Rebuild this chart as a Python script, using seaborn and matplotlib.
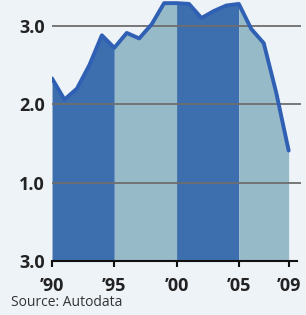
import numpy as np
import pandas as pd
import matplotlib
matplotlib.use("Agg")
import matplotlib.pyplot as plt
import seaborn as sns

# data
years = [1990, 1991, 1992, 1993, 1994, 1995, 1996, 1997, 1998, 1999,
         2000, 2001, 2002, 2003, 2004, 2005, 2006, 2007, 2008, 2009]
values = [2.33, 2.06, 2.20, 2.50, 2.88, 2.72, 2.91, 2.84, 3.02, 3.29,
          3.29, 3.28, 3.10, 3.19, 3.26, 3.28, 2.96, 2.78, 2.15, 1.41]
bands = [(1990, 1995), (1995, 2000), (2000, 2005), (2005, 2009)]
band_colors = ["#3d6fae", "#97bac9", "#3d6fae", "#97bac9"]
ytick_vals = [0, 1, 2, 3]
ytick_labels = ["3.0", "1.0", "2.0", "3.0"]
xtick_vals = [1990, 1995, 2000, 2005, 2009]
xtick_labels = ["\u201990", "\u201995", "\u201900", "\u201905", "\u201909"]

df = pd.DataFrame({"year": years, "value": values})

sns.set_style("white")
plt.rcParams["font.family"] = ["Open Sans", "DejaVu Sans"]
bg = "#eef3f8"

fig = plt.figure(figsize=(3.06, 3.15), dpi=100, facecolor=bg)
ax = fig.add_axes([0.170, 0.171, 0.801, 0.829])
ax.set_facecolor(bg)

for (a, b), c in zip(bands, band_colors):
    sub = df[(df.year >= a) & (df.year <= b)]
    ax.fill_between(sub.year, 0, sub.value, color=c, linewidth=0, zorder=1)

for v in [1, 2, 3]:
    ax.hlines(v, 1990, 2010.0, color="#6e6e6e", linewidth=1.3, zorder=2, clip_on=False)

sns.lineplot(data=df, x="year", y="value", ax=ax, color="#3060b4", linewidth=2.8, zorder=3)

ax.set_xlim(1990, 2009.68)
ax.set_ylim(0, 3.33)
for s in ["top", "right", "left"]:
    ax.spines[s].set_visible(False)
ax.spines["bottom"].set_color("#111111")
ax.spines["bottom"].set_linewidth(1.5)
ax.spines["bottom"].set_zorder(4)

ax.set_xticks(xtick_vals)
ax.set_xticklabels(xtick_labels, fontsize=13, fontweight="bold", color="#222222")
ax.set_yticks(ytick_vals)
ax.set_yticklabels(ytick_labels, fontsize=13, fontweight="bold", color="#222222")
ax.tick_params(axis="x", direction="out", length=4, width=1.5, color="#111111", pad=7.5, bottom=True)
ax.tick_params(axis="y", length=0, pad=5)
ax.set_xlabel("")
ax.set_ylabel("")

fig.text(0.036, 0.04, "Source: Autodata", fontsize=10, color="#333333", ha="left", va="center")

fig.savefig("out.png", dpi=100, facecolor=bg)
